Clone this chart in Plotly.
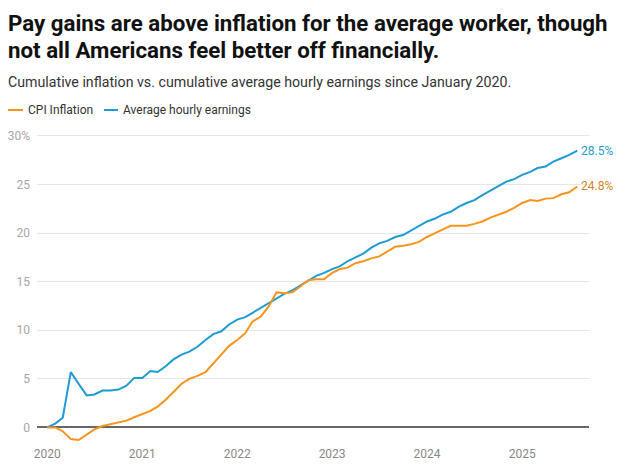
import pandas as pd
import plotly.graph_objects as go

# ---- data (monthly, Jan 2020 - Aug 2025) ----
start_month = "2020-01-01"
n_months = 68
earnings = [
    0, 0.4, 1.0, 5.7, 4.5, 3.3, 3.4, 3.8, 3.8, 3.9, 4.3, 5.1,
    5.1, 5.8, 5.7, 6.3, 7.0, 7.5, 7.8, 8.3, 9.0, 9.6, 9.9, 10.6,
    11.1, 11.35, 11.8, 12.3, 12.8, 13.3, 13.75, 14.1, 14.6, 15.1, 15.6, 15.9,
    16.3, 16.6, 17.1, 17.5, 17.9, 18.5, 18.95, 19.2, 19.6, 19.8, 20.3, 20.7,
    21.2, 21.5, 21.9, 22.2, 22.7, 23.1, 23.4, 23.9, 24.4, 24.85, 25.3, 25.55,
    26.0, 26.3, 26.7, 26.85, 27.35, 27.7, 28.05, 28.5,
]
cpi = [
    0, 0.0, -0.4, -1.2, -1.3, -0.7, -0.2, 0.15, 0.35, 0.5, 0.7, 1.05,
    1.35, 1.7, 2.15, 2.85, 3.65, 4.5, 5.0, 5.3, 5.7, 6.6, 7.5, 8.4,
    9.0, 9.7, 10.9, 11.4, 12.4, 13.9, 13.8, 13.9, 14.5, 15.15, 15.25, 15.25,
    15.9, 16.3, 16.45, 16.9, 17.1, 17.4, 17.6, 18.1, 18.6, 18.7, 18.85, 19.1,
    19.6, 20.0, 20.4, 20.75, 20.75, 20.75, 20.95, 21.2, 21.6, 21.9, 22.2, 22.6,
    23.1, 23.4, 23.3, 23.55, 23.6, 24.0, 24.2, 24.8,
]
series_names = ["CPI Inflation", "Average hourly earnings"]
y_ticks = [0, 5, 10, 15, 20, 25, 30]
y_tick_labels = ["0", "5", "10", "15", "20", "25", "30%"]
x_tick_years = [2020, 2021, 2022, 2023, 2024, 2025]
title_lines = ["Pay gains are above inflation for the average worker, though",
               "not all Americans feel better off financially."]
subtitle = "Cumulative inflation vs. cumulative average hourly earnings since January 2020."

dates = pd.date_range(start_month, periods=n_months, freq="MS")

ORANGE = "#f7941d"
BLUE = "#1f9bd3"
ORANGE_TXT = "#d4822c"
BLUE_TXT = "#2a9bd0"
FONT = "Roboto"

fig = go.Figure()
fig.add_trace(go.Scatter(x=dates, y=earnings, mode="lines", name=series_names[1],
                         line=dict(color=BLUE, width=2)))
fig.add_trace(go.Scatter(x=dates, y=cpi, mode="lines", name=series_names[0],
                         line=dict(color=ORANGE, width=2)))

# page has an 8px body margin; geometry below is given in page pixels
OFF = 8
W, H = 626 - 2 * OFF, 471 - 2 * OFF
PL, PR, PT, PB = 37, 589, 134, 443.3  # plot area in page pixels
L = PL - OFF
R = W - (PR - OFF)
T = PT - OFF
B = H - (PB - OFF)
pw = W - L - R
ph = H - T - B
TXT_PAD = 2

def px(xp):
    return (xp - OFF - L) / pw

def py(yp):
    return (H - B - (yp - OFF)) / ph

ann = []
for line, yc in zip(title_lines, [23, 50]):
    ann.append(dict(x=px(8 - TXT_PAD), y=py(yc), xref="paper", yref="paper",
                    xanchor="left", yanchor="middle", text=f"<b>{line}</b>",
                    showarrow=False, align="left",
                    font=dict(family=FONT, size=22.3, color="#111111")))
ann.append(dict(x=px(8 - TXT_PAD), y=py(82), xref="paper", yref="paper", xanchor="left", yanchor="middle",
                text=subtitle, showarrow=False, align="left",
                font=dict(family=FONT, size=14.2, color="#333333")))
# legend
ann.append(dict(x=px(28 - TXT_PAD), y=py(110), xref="paper", yref="paper", xanchor="left", yanchor="middle",
                text=series_names[0], showarrow=False, font=dict(family=FONT, size=12, color="#333333")))
ann.append(dict(x=px(123 - TXT_PAD), y=py(110), xref="paper", yref="paper", xanchor="left", yanchor="middle",
                text=series_names[1], showarrow=False, font=dict(family=FONT, size=12, color="#333333")))
# end labels
ann.append(dict(x=dates[-1], y=earnings[-1], xref="x", yref="y", xanchor="left", yanchor="middle",
                xshift=2, text=f"{earnings[-1]}%", showarrow=False,
                font=dict(family=FONT, size=12, color=BLUE_TXT)))
ann.append(dict(x=dates[-1], y=cpi[-1], xref="x", yref="y", xanchor="left", yanchor="middle",
                xshift=2, text=f"{cpi[-1]}%", showarrow=False,
                font=dict(family=FONT, size=12, color=ORANGE_TXT)))

shapes = [
    dict(type="line", xref="paper", yref="paper", x0=px(8), x1=px(23), y0=py(110), y1=py(110),
         line=dict(color=ORANGE, width=2)),
    dict(type="line", xref="paper", yref="paper", x0=px(104), x1=px(118), y0=py(110), y1=py(110),
         line=dict(color=BLUE, width=2)),
]

fig.update_layout(
    width=W, height=H,
    margin=dict(l=L, r=R, t=T, b=B, pad=0, autoexpand=False),
    paper_bgcolor="white", plot_bgcolor="white",
    showlegend=False,
    annotations=ann, shapes=shapes,
    font=dict(family=FONT),
)
fig.update_xaxes(
    range=["2019-11-23", "2025-09-15"],
    tickvals=[f"{y}-01-01" for y in x_tick_years],
    ticktext=[str(y) for y in x_tick_years],
    showgrid=False, zeroline=False, showline=False, automargin=False,
    tickfont=dict(family=FONT, size=12, color="#888888"),
    ticks="", ticklabelstandoff=2,
)
fig.update_yaxes(
    range=[-1.6, 30.2],
    tickvals=y_ticks, ticktext=y_tick_labels,
    showgrid=True, gridcolor="#e6e6e6", gridwidth=1,
    zeroline=True, zerolinecolor="#666666", zerolinewidth=2,
    showline=False, ticks="", automargin=False,
    tickfont=dict(family=FONT, size=12, color="#a6a6a6"),
    ticklabelstandoff=6,
)

fig.write_html("out.html")
